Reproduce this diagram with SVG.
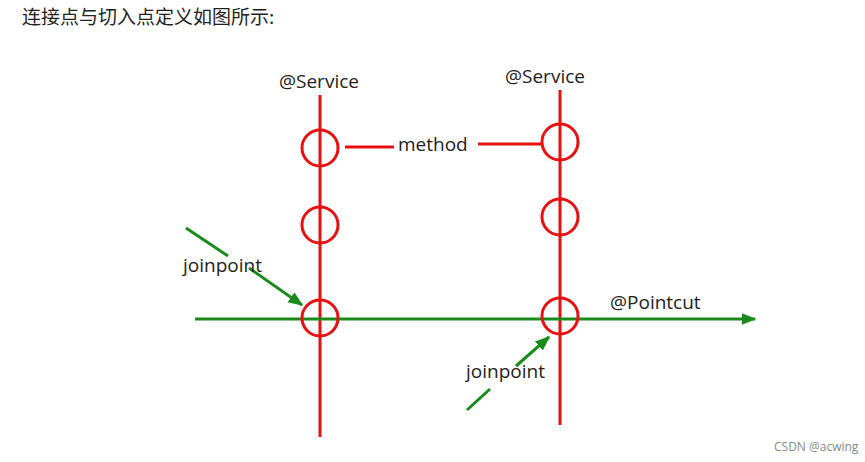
<svg xmlns="http://www.w3.org/2000/svg" width="865" height="462" viewBox="0 0 865 462">
<style>
text{font-family:"Open Sans","Noto Sans",sans-serif;fill:#222}
.lbl{font-size:19px}
.r{stroke:#e81010;stroke-width:3;fill:none}
.g{stroke:#1a8a1a;stroke-width:3;fill:none}
</style>
<defs>
<marker id="ga" viewBox="0 0 10 10" refX="9" refY="5" markerWidth="5" markerHeight="5" orient="auto" markerUnits="strokeWidth"><path d="M0,1 L10,5 L0,9 z" fill="#1a8a1a"/></marker>
</defs>
<rect width="865" height="462" fill="#fff"/>
<text x="22" y="24" font-size="19" style="font-family:'Noto Sans CJK SC',sans-serif">连接点与切入点定义如图所示:</text>
<g id="connectors">
<line class="r" x1="320" y1="95" x2="320" y2="437"/>
<line class="r" x1="560" y1="90" x2="560" y2="425"/>
<line class="r" x1="345" y1="147" x2="394" y2="147"/>
<line class="r" x1="478" y1="144" x2="541" y2="144"/>
<line class="g" x1="195" y1="319" x2="755" y2="319" marker-end="url(#ga)"/>
<line class="g" x1="186" y1="228" x2="228" y2="256"/>
<line class="g" x1="249" y1="268" x2="302" y2="305" marker-end="url(#ga)"/>
<line class="g" x1="467" y1="410" x2="490" y2="389"/>
<line class="g" x1="516" y1="366" x2="549" y2="337" marker-end="url(#ga)"/>
</g>
<g id="left-service"><text class="lbl" x="279" y="88">@Service</text></g>
<g id="right-service"><text class="lbl" x="505" y="83">@Service</text></g>
<g id="l1"><circle class="r" cx="320" cy="148" r="18"/></g>
<g id="l2"><circle class="r" cx="320" cy="225" r="18"/></g>
<g id="l3"><circle class="r" cx="320" cy="318" r="18"/></g>
<g id="r1"><circle class="r" cx="560" cy="142" r="18"/></g>
<g id="r2"><circle class="r" cx="560" cy="217" r="18"/></g>
<g id="r3"><circle class="r" cx="560" cy="316" r="18"/></g>
<g id="method"><text class="lbl" x="398" y="151">method</text></g>
<g id="pointcut"><text class="lbl" x="610" y="309">@Pointcut</text></g>
<g id="jp1"><text class="lbl" x="183" y="272">joinpoint</text></g>
<g id="jp2"><text class="lbl" x="466" y="378">joinpoint</text></g>
<text x="774" y="451" font-size="12" style="fill:#888">CSDN @acwing</text>
</svg>
